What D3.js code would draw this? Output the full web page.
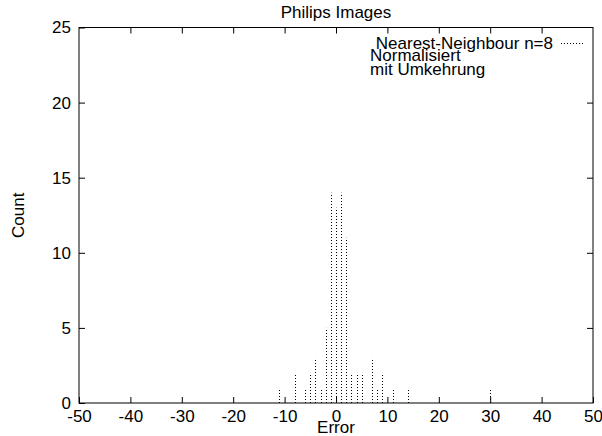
<!DOCTYPE html>
<html>
<head>
<meta charset="utf-8">
<script src="https://cdn.jsdelivr.net/npm/d3@7"></script>
<style>
  body { margin: 0; background: #fff; }
  text { font-family: "Liberation Sans", Arial, sans-serif; font-size: 17px; fill: #000; }
</style>
</head>
<body>
<div id="chart"></div>
<script>
// error values and how often they occur
var errors = [-11, -8, -6, -5, -4, -3, -2, -1, 0, 1, 2, 3, 4, 5, 7, 8, 9, 11, 14, 30];
var counts = [1, 2, 1, 2, 3, 1, 5, 14, 13, 14, 11, 2, 2, 2, 3, 1, 2, 1, 1, 1];
var xTicks = [-50, -40, -30, -20, -10, 0, 10, 20, 30, 40, 50];
var yTicks = [0, 5, 10, 15, 20, 25];

var margin = { top: 27.5, right: 9, bottom: 33, left: 79 },
    W = 602, H = 436;

var svg = d3.select("#chart").append("svg")
    .attr("width", W)
    .attr("height", H);

var x = d3.scaleLinear().domain([-50, 50]).range([margin.left, W - margin.right]);
var y = d3.scaleLinear().domain([0, 25]).range([H - margin.bottom, margin.top]);

// plain hyphen minus, like gnuplot
var fmt = function (d) { return String(d); };

// frame
svg.append("rect")
    .attr("x", x(-50)).attr("y", y(25))
    .attr("width", x(50) - x(-50)).attr("height", y(0) - y(25))
    .attr("fill", "none").attr("stroke", "#000").attr("stroke-width", 1);

// ticks, mirrored on all four sides like gnuplot
var tl = 6;
svg.append("g")
    .attr("transform", "translate(0," + y(0) + ")")
    .call(d3.axisBottom(x).tickValues(xTicks).tickSize(-tl).tickPadding(tl + 1).tickFormat(fmt))
    .call(function (g) { g.select(".domain").remove(); });
svg.append("g")
    .attr("transform", "translate(0," + y(25) + ")")
    .call(d3.axisTop(x).tickValues(xTicks.slice(1, -1)).tickSize(-tl).tickFormat(""))
    .call(function (g) { g.select(".domain").remove(); });
svg.append("g")
    .attr("transform", "translate(" + x(-50) + ",0)")
    .call(d3.axisLeft(y).tickValues(yTicks).tickSize(-tl).tickPadding(tl + 2).tickFormat(fmt))
    .call(function (g) { g.select(".domain").remove(); });
svg.append("g")
    .attr("transform", "translate(" + x(50) + ",0)")
    .call(d3.axisRight(y).tickValues(yTicks.slice(1, -1)).tickSize(-tl).tickFormat(""))
    .call(function (g) { g.select(".domain").remove(); });

svg.selectAll(".tick text")
    .attr("font-family", "Liberation Sans, Arial, sans-serif")
    .attr("font-size", 17)
    .attr("fill", "#000");
svg.selectAll(".tick line").attr("stroke", "#000");

// impulses
svg.selectAll(".imp")
    .data(errors)
    .enter().append("line")
    .attr("class", "imp")
    .attr("x1", function (d) { return Math.round(x(d)) + 0.5; })
    .attr("x2", function (d) { return Math.round(x(d)) + 0.5; })
    .attr("y1", y(0))
    .attr("y2", function (d, i) { return y(counts[i]); })
    .attr("stroke", "#000")
    .attr("stroke-width", 1)
    .attr("stroke-dasharray", "1,2");

// labels
svg.append("text")
    .attr("x", (x(-50) + x(50)) / 2).attr("y", 18)
    .attr("text-anchor", "middle")
    .text("Philips Images");
svg.append("text")
    .attr("x", (x(-50) + x(50)) / 2).attr("y", 433)
    .attr("text-anchor", "middle")
    .text("Error");
svg.append("text")
    .attr("transform", "translate(24," + (y(0) + y(25)) / 2 + ") rotate(-90)")
    .attr("text-anchor", "middle")
    .text("Count");

// key
svg.append("text")
    .attr("x", 553).attr("y", 49)
    .attr("text-anchor", "end")
    .text("Nearest-Neighbour n=8");
svg.append("line")
    .attr("x1", 561).attr("x2", 583)
    .attr("y1", 43.5).attr("y2", 43.5)
    .attr("stroke", "#000")
    .attr("stroke-dasharray", "1,2");
svg.append("text").attr("x", 370).attr("y", 61).text("Normalisiert");
svg.append("text").attr("x", 370).attr("y", 75).text("mit Umkehrung");
</script>
</body>
</html>
